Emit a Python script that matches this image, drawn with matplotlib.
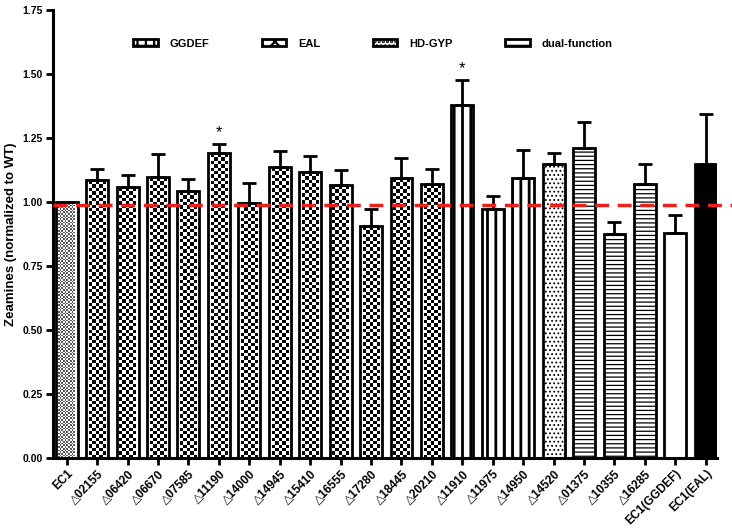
import numpy as np
import matplotlib
matplotlib.use('Agg')
import matplotlib.pyplot as plt
from matplotlib.patches import Patch

labels = ['EC1', '△02155', '△06420', '△06670', '△07585', '△11190', '△14000',
          '△14945', '△15410', '△16555', '△17280', '△18445', '△20210', '△11910',
          '△11975', '△14950', '△14520', '△01375', '△10355', '△16285',
          'EC1(GGDEF)', 'EC1(EAL)']
means = [1.00, 1.086, 1.060, 1.099, 1.043, 1.190, 0.995, 1.138, 1.116, 1.065,
         0.907, 1.093, 1.070, 1.380, 0.971, 1.093, 1.148, 1.210, 0.874, 1.070,
         0.878, 1.148]
err_top = [1.00, 1.129, 1.105, 1.186, 1.089, 1.227, 1.074, 1.198, 1.180, 1.124,
           0.973, 1.173, 1.128, 1.477, 1.023, 1.203, 1.190, 1.311, 0.923, 1.148,
           0.949, 1.343]
kinds = (['wt'] + ['checker'] * 12 + ['dual'] * 3 + ['hdgyp'] + ['hline'] * 3
         + ['white', 'black'])
star_labels = ['△11190', '△11910']
ref_level = 0.99

legend_names = ['GGDEF', 'EAL', 'HD-GYP', 'dual-function']

plt.rcParams['font.family'] = ['Liberation Sans', 'DejaVu Sans']
plt.rcParams['font.weight'] = 'bold'
plt.rcParams['hatch.linewidth'] = 1.6

fig = plt.figure(figsize=(7.32, 5.30), dpi=100)
ax = fig.add_axes([0.072, 0.136, 0.908, 0.845])

x = np.arange(len(labels))
width = 0.72
px_per_unit = 256.0


def checker_img(ax, xc, h, ncol, dark, cell_px):
    inset = 0.09
    x0, x1 = xc - width / 2 + inset, xc + width / 2 - inset
    nrow = max(1, int(round(h * px_per_unit / cell_px)))
    arr = (np.indices((nrow, ncol)).sum(axis=0) % 2).astype(float)
    arr = np.where(arr > 0, 1.0, dark)
    ax.imshow(arr, cmap='gray', vmin=0, vmax=1, extent=[x0, x1, 0, h - 0.006],
              aspect='auto', interpolation='nearest', zorder=1)


for xi, h, k in zip(x, means, kinds):
    face = 'white'
    hatch = None
    hlw = 1.6
    if k == 'black':
        face = 'black'
    elif k == 'dual':
        hatch = '||'
        hlw = 2.0
    elif k == 'hline':
        hatch = '----'
        hlw = 0.9
    elif k == 'hdgyp':
        hatch = '....'
        hlw = 0.8
    if k == 'checker':
        checker_img(ax, xi, h, 5, 0.0, 3.4)
        face = 'none'
    elif k == 'wt':
        checker_img(ax, xi, h, 10, 0.35, 1.7)
        face = 'none'
    with plt.rc_context({'hatch.linewidth': hlw}):
        b = ax.bar(xi, h, width=width, facecolor=face, edgecolor='black',
                   linewidth=2.0, hatch=hatch, zorder=2)
    for p in b:
        if hasattr(p, 'set_hatch_linewidth'):
            p.set_hatch_linewidth(hlw)

up = np.array(err_top) - np.array(means)
ax.errorbar(x, means, yerr=[np.zeros_like(up), up], fmt='none', ecolor='black',
            elinewidth=2.0, capsize=5, capthick=2.0, zorder=3)

for lab in star_labels:
    i = labels.index(lab)
    ax.text(x[i], err_top[i] + 0.045, '*', ha='center', va='center',
            fontsize=12, fontweight='normal')

ax.plot([-0.46, 22.0], [ref_level, ref_level], color='#e8211b', lw=2.5,
        ls=(0, (4, 2.5)), clip_on=False, zorder=4)

ax.set_xlim(-0.46, 21.38)
ax.set_ylim(0, 1.75)
ax.set_yticks(np.arange(0, 1.76, 0.25))
ax.set_yticklabels([f'{v:.2f}' for v in np.arange(0, 1.76, 0.25)], fontsize=7.5)
ax.set_xticks(x)
ax.set_xticklabels(labels, rotation=45, ha='right', rotation_mode='anchor',
                   fontsize=8.5)
ax.set_ylabel('Zeamines (normalized to WT)', fontsize=9.5, fontweight='bold')
for s in ['top', 'right']:
    ax.spines[s].set_visible(False)
for s in ['left', 'bottom']:
    ax.spines[s].set_linewidth(2.2)
ax.tick_params(axis='both', width=2.0, length=5, direction='out', pad=2)

handles = [Patch(facecolor='white', edgecolor='black', hatch='++', lw=2),
           Patch(facecolor='white', edgecolor='black', hatch='xx', lw=2),
           Patch(facecolor='white', edgecolor='black', hatch='....', lw=2),
           Patch(facecolor='white', edgecolor='black', hatch='--', lw=2)]
ax.legend(handles, legend_names, ncol=4, frameon=False, loc='center left',
          bbox_to_anchor=(0.106, 0.925), fontsize=8, columnspacing=4.7,
          handlelength=2.2, handleheight=0.6, handletextpad=1.1)

fig.savefig('out.png', dpi=100)
